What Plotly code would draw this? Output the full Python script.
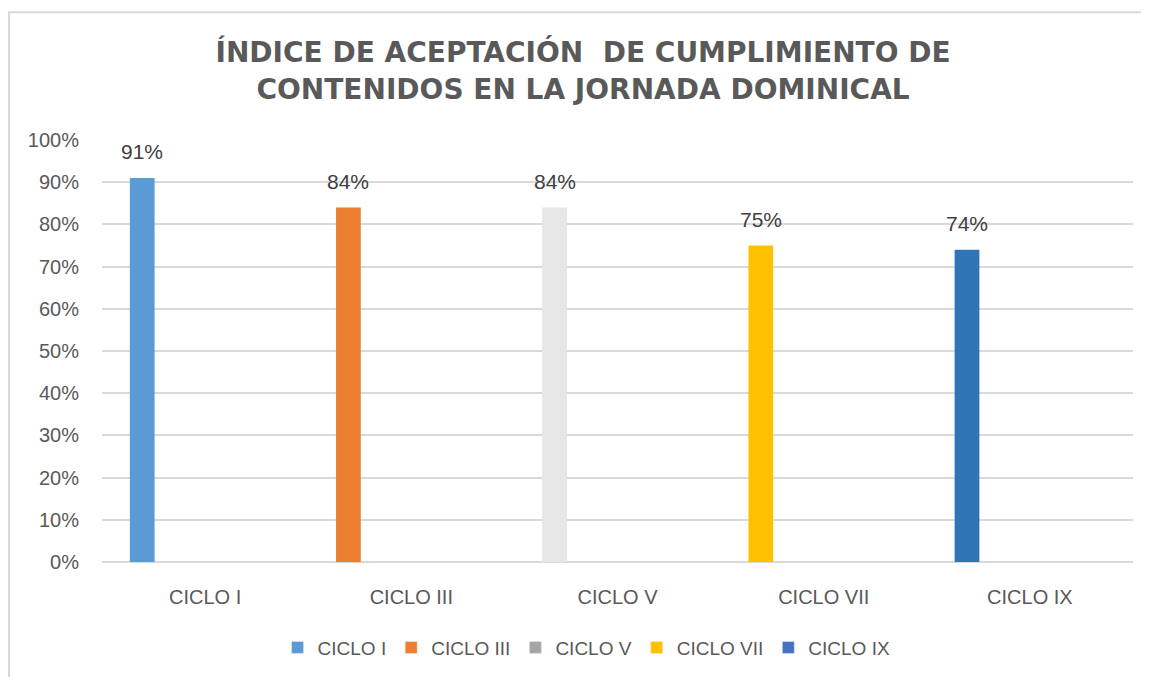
import plotly.graph_objs as go

categories = ["CICLO I", "CICLO III", "CICLO V", "CICLO VII", "CICLO IX"]
values = [0.91, 0.84, 0.84, 0.75, 0.74]
bar_colors = ["#5B9BD5", "#ED7D31", "#E7E6E6", "#FFC000", "#2E75B6"]
legend_colors = ["#5B9BD5", "#ED7D31", "#A5A5A5", "#FFC000", "#4472C4"]
y_ticks = [i / 10 for i in range(11)]

FONT = "Liberation Sans"
BAR_W = 0.12
BAR_SHIFT = -0.305  # bar sits left of the category centre, as in the Excel chart


def main():
    fig = go.Figure()

    for cat, val, col in zip(categories, values, bar_colors):
        fig.add_trace(go.Bar(x=[cat], y=[val], width=BAR_W, offset=BAR_SHIFT - BAR_W / 2,
                             marker=dict(color=col, line=dict(width=0)),
                             showlegend=False, hoverinfo="x+y"))

    # legend entries (legend colours differ from the bar fills in the original)
    for cat, col in zip(categories, legend_colors):
        fig.add_trace(go.Bar(x=[None], y=[None], name=cat, marker=dict(color=col)))

    for i, val in enumerate(values):
        fig.add_annotation(x=i + BAR_SHIFT, y=val, text=f"{round(val * 100)}%",
                           showarrow=False, yanchor="bottom", yshift=13,
                           font=dict(family=FONT, size=21, color="#404040"))

    # light frame around the chart area
    fig.add_shape(type="rect", xref="paper", yref="paper",
                  x0=-0.0902, x1=1.05, y0=-0.3, y1=1.3026,
                  line=dict(color="#D9D9D9", width=2), layer="below")

    fig.update_layout(
        width=1141, height=669,
        margin=dict(l=94, r=16, t=132, b=114),
        paper_bgcolor="white", plot_bgcolor="white",
        barmode="overlay",
        title=dict(text="ÍNDICE DE ACEPTACIÓN  DE CUMPLIMIENTO DE<br>CONTENIDOS EN LA JORNADA DOMINICAL",
                   x=0.504, xanchor="center", y=0.919, yanchor="middle",
                   font=dict(family="DejaVu Sans", size=28, color="#595959", weight="bold")),
        legend=dict(orientation="h", x=0.47, xanchor="center", y=-0.2, yanchor="middle",
                    font=dict(family=FONT, size=19, color="#595959")),
        showlegend=True,
    )
    fig.update_xaxes(type="category", showgrid=False, showline=False,
                     ticks="outside", ticklen=17, tickcolor="rgba(0,0,0,0)",
                     tickfont=dict(family=FONT, size=20, color="#595959"))
    fig.update_yaxes(range=[0, 1], tickvals=y_ticks, tickformat=".0%",
                     showgrid=True, gridcolor="#D9D9D9", gridwidth=1.5,
                     zeroline=True, zerolinecolor="#D9D9D9", zerolinewidth=1.5,
                     ticks="outside", ticklen=18, tickcolor="rgba(0,0,0,0)",
                     tickfont=dict(family=FONT, size=20, color="#595959"))

    fig.write_html("out.html")


if __name__ == '__main__':
    main()
